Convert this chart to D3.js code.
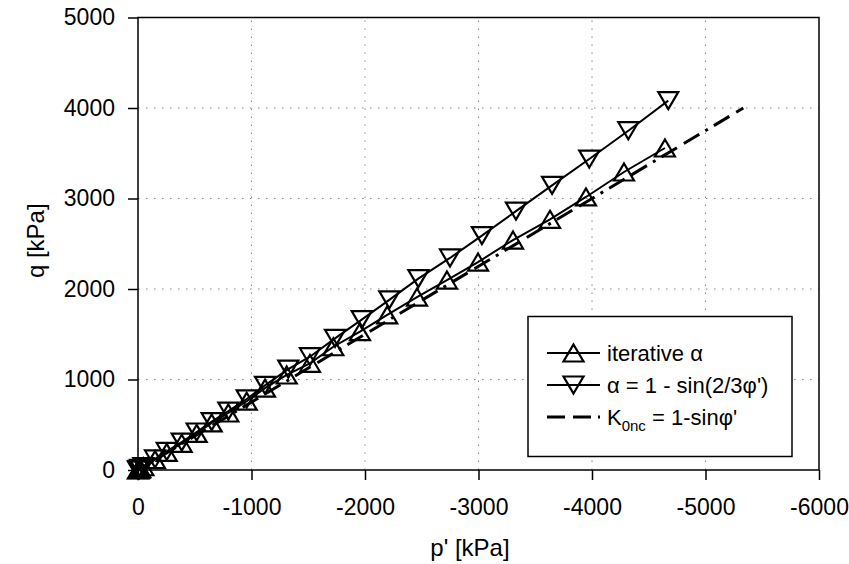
<!DOCTYPE html>
<html><head><meta charset="utf-8">
<script src="https://cdn.jsdelivr.net/npm/d3@7"></script>
<style>body{margin:0;background:#fff;}svg{display:block;font-family:"Liberation Sans",Arial,sans-serif;}</style>
</head><body><svg id="c" width="849" height="564"></svg>
<script>
// ---- data ----
const iterP = [0, -4, -10, -20, -47, -150, -253, -385, -517, -649, -796, -958, -1119, -1310, -1515, -1721, -1956, -2196, -2458, -2722, -2996, -3304, -3630, -3947, -4282, -4643];
const iterQ = [0, 3, 8, 15, 36, 115, 195, 295, 405, 520, 630, 760, 905, 1050, 1179, 1362, 1528, 1713, 1911, 2099, 2298, 2541, 2770, 3017, 3293, 3558];
const sinP = [0, -4, -10, -20, -47, -150, -253, -385, -517, -649, -796, -958, -1119, -1324, -1515, -1736, -1971, -2214, -2470, -2749, -3030, -3330, -3648, -3976, -4320, -4672];
const sinQ = [0, 3, 8, 17, 38, 122, 205, 308, 420, 535, 650, 785, 935, 1115, 1252, 1455, 1662, 1880, 2115, 2343, 2590, 2860, 3145, 3436, 3749, 4081];
const k0P = [0, -5333];
const k0Q = [0, 4000];
const xTicks = [0, -1000, -2000, -3000, -4000, -5000, -6000];
const yTicks = [0, 1000, 2000, 3000, 4000, 5000];
const xGrid = [-1000, -2000, -3000, -4000, -5000];
const yGrid = [1000, 2000, 3000, 4000];

const L = 138, R = 819, T = 17.5, B = 470;
const svg = d3.select("#c");
const x = d3.scaleLinear().domain([0, -6000]).range([L, R]);
const y = d3.scaleLinear().domain([0, 5000]).range([B, T]);

// grid
const g = svg.append("g");
g.selectAll(".vg").data(xGrid).enter().append("line")
  .attr("x1", d => x(d)).attr("x2", d => x(d)).attr("y1", B).attr("y2", T)
  .attr("stroke", "#888").attr("stroke-width", 1).attr("stroke-dasharray", "1.5,6.5");
g.selectAll(".hg").data(yGrid).enter().append("line")
  .attr("y1", d => y(d)).attr("y2", d => y(d)).attr("x1", L).attr("x2", R)
  .attr("stroke", "#888").attr("stroke-width", 1).attr("stroke-dasharray", "1.5,6.5");

// axes
const fmt = d => String(d).replace("\u2212", "-");
const xa = svg.append("g").attr("transform", `translate(0,${B})`)
  .call(d3.axisBottom(x).tickValues(xTicks).tickSize(10).tickPadding(19).tickFormat(fmt));
const ya = svg.append("g").attr("transform", `translate(${L},0)`)
  .call(d3.axisLeft(y).tickValues(yTicks).tickSize(10).tickPadding(13).tickFormat(fmt));
[xa, ya].forEach(a => {
  a.select(".domain").remove();
  a.selectAll("line").attr("stroke", "#000").attr("stroke-width", 1.5);
  a.selectAll("text").attr("font-size", 23).attr("fill", "#000")
    .attr("font-family", "'Liberation Sans', Arial, sans-serif");
});
// frame
svg.append("rect").attr("x", L).attr("y", T).attr("width", R - L).attr("height", B - T)
  .attr("fill", "none").attr("stroke", "#000").attr("stroke-width", 1.5);

// titles
svg.append("text").attr("x", 470).attr("y", 556).attr("text-anchor", "middle")
  .attr("font-size", 24).text("p' [kPa]");
svg.append("text").attr("transform", `translate(44,${(T + B) / 2 - 3}) rotate(-90)`)
  .attr("text-anchor", "middle").attr("font-size", 24).text("q [kPa]");

// series
const line = d3.line().x(d => x(d[0])).y(d => y(d[1]));
const k0 = d3.zip(k0P, k0Q), it = d3.zip(iterP, iterQ), sn = d3.zip(sinP, sinQ);
const dashPat = "18,8,18,7,3,7";
svg.append("path").datum(k0).attr("d", line).attr("fill", "none")
  .attr("stroke", "#000").attr("stroke-width", 3).attr("stroke-dasharray", dashPat);
svg.append("path").datum(it).attr("d", line).attr("fill", "none").attr("stroke", "#000").attr("stroke-width", 2);
svg.append("path").datum(sn).attr("d", line).attr("fill", "none").attr("stroke", "#000").attr("stroke-width", 2);

const tw = 10, th = 8.5;
const upTri = `M0,${-th}L${tw},${th}L${-tw},${th}Z`;
const dnTri = `M0,${th}L${tw},${-th}L${-tw},${-th}Z`;
svg.append("g").selectAll("path").data(it).enter().append("path")
  .attr("d", upTri).attr("transform", d => `translate(${x(d[0])},${y(d[1])})`)
  .attr("fill", "none").attr("stroke", "#000").attr("stroke-width", 2.2);
svg.append("g").selectAll("path").data(sn).enter().append("path")
  .attr("d", dnTri).attr("transform", d => `translate(${x(d[0])},${y(d[1])})`)
  .attr("fill", "none").attr("stroke", "#000").attr("stroke-width", 2.2);

// legend
const lg = svg.append("g");
lg.append("rect").attr("x", 528).attr("y", 316.5).attr("width", 264).attr("height", 140)
  .attr("fill", "#fff").attr("stroke", "#000").attr("stroke-width", 1.5);
const rows = [
  {y: 353, mk: upTri, dash: null, label: "iterative \u03b1"},
  {y: 385, mk: dnTri, dash: null, label: "\u03b1 = 1 - sin(2/3\u03c6')"},
  {y: 417, mk: null, dash: dashPat, label: null}
];
rows.forEach(r => {
  lg.append("line").attr("x1", 547).attr("x2", 600).attr("y1", r.y).attr("y2", r.y)
    .attr("stroke", "#000").attr("stroke-width", r.dash ? 3 : 2)
    .attr("stroke-dasharray", r.dash);
  if (r.mk) lg.append("path").attr("d", r.mk).attr("transform", `translate(573.5,${r.y})`)
    .attr("fill", "none").attr("stroke", "#000").attr("stroke-width", 2.2);
  if (r.label) lg.append("text").attr("x", 607).attr("y", r.y + 7.5).attr("font-size", 22).text(r.label);
});
const t3 = lg.append("text").attr("x", 607).attr("y", 417 + 7.5).attr("font-size", 22);
t3.append("tspan").text("K");
t3.append("tspan").attr("font-size", 15).attr("dy", 6).text("0nc");
t3.append("tspan").attr("dy", -6).text(" = 1-sin\u03c6'");
</script></body></html>
